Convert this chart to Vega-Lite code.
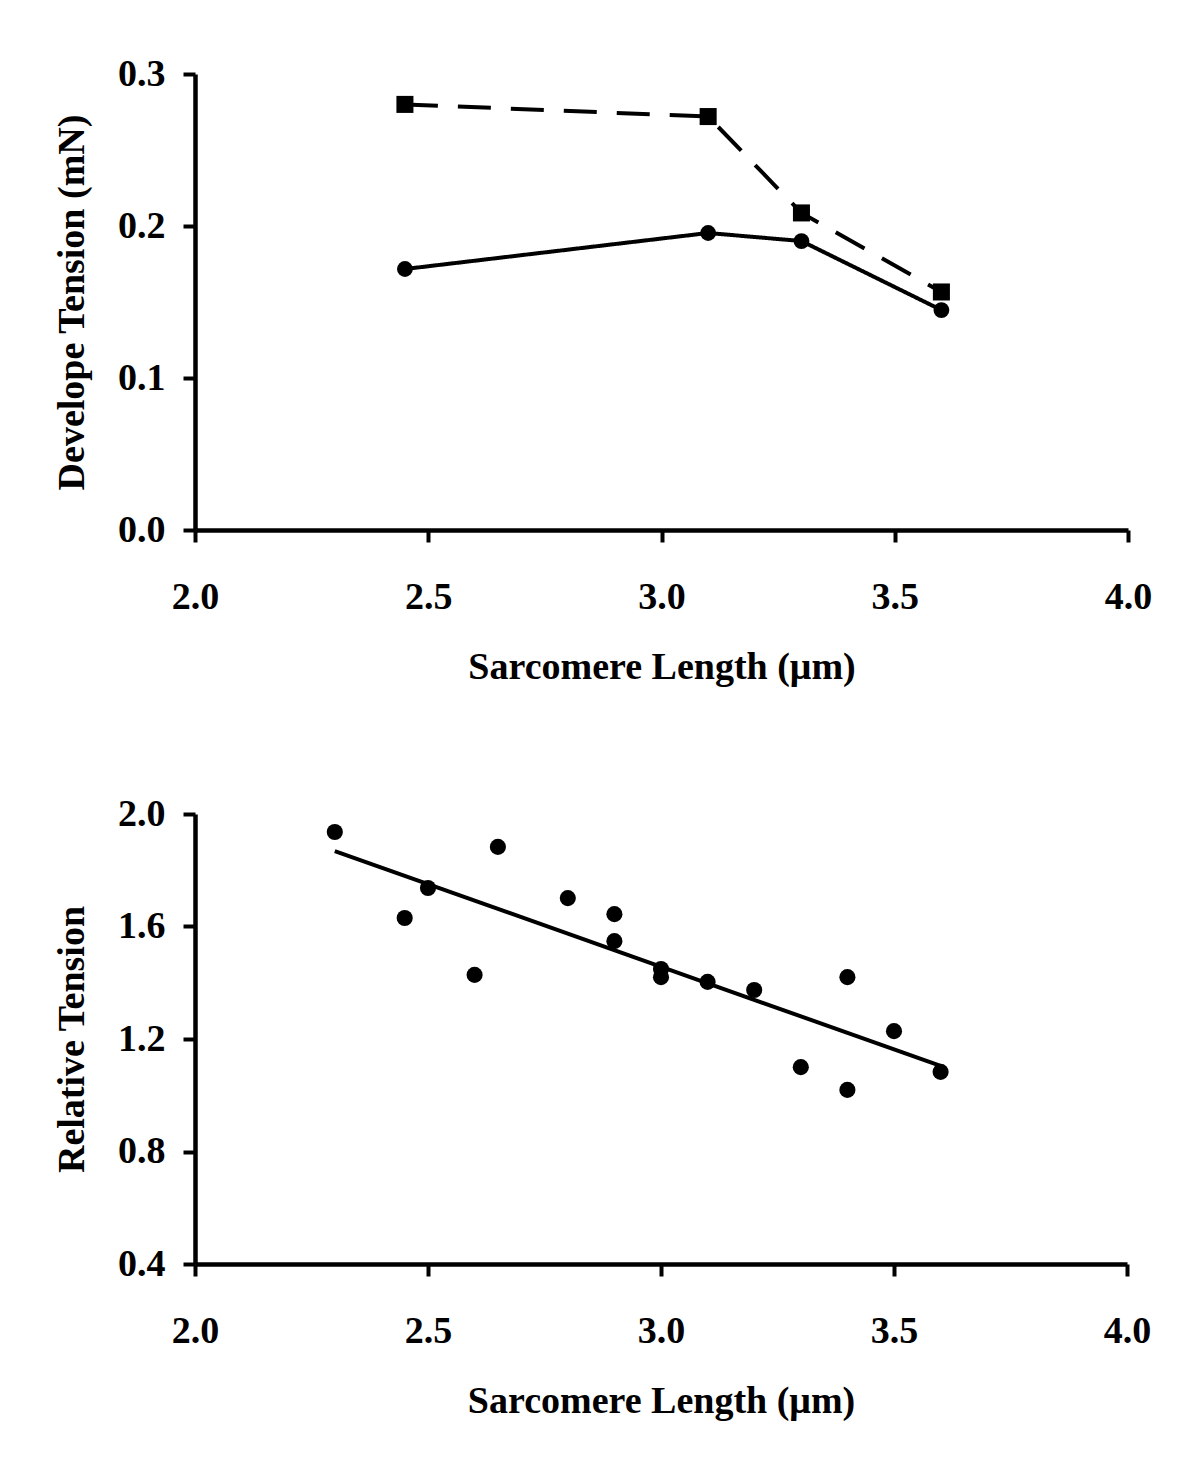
{
  "$schema": "https://vega.github.io/schema/vega-lite/v6.json",
  "background": "white",
  "padding": {"left": 53, "top": 55, "right": 40, "bottom": 20},
  "config": {
    "font": "Liberation Serif",
    "view": {"stroke": null},
    "axis": {
      "grid": false,
      "domainColor": "black",
      "domainWidth": 4.5,
      "tickColor": "black",
      "tickWidth": 4,
      "tickSize": 12,
      "labelFont": "Liberation Serif",
      "labelFontSize": 38,
      "labelFontWeight": "bold",
      "labelColor": "black",
      "labelFlush": false,
      "titleFont": "Liberation Serif",
      "titleFontSize": 38,
      "titleFontWeight": "bold",
      "titleColor": "black"
    },
    "axisX": {"labelPadding": 36, "titlePadding": 32},
    "axisY": {"labelPadding": 18, "titlePadding": 26}
  },
  "spacing": 109,
  "vconcat": [
    {
      "width": 933,
      "height": 456,
      "data": {
        "values": [
          {"sl": 2.45, "tension": 0.280, "series": "A"},
          {"sl": 3.1, "tension": 0.272, "series": "A"},
          {"sl": 3.3, "tension": 0.2086, "series": "A"},
          {"sl": 3.6, "tension": 0.1566, "series": "A"},
          {"sl": 2.45, "tension": 0.1717, "series": "B"},
          {"sl": 3.1, "tension": 0.1954, "series": "B"},
          {"sl": 3.3, "tension": 0.1901, "series": "B"},
          {"sl": 3.6, "tension": 0.1447, "series": "B"}
        ]
      },
      "encoding": {
        "x": {
          "field": "sl", "type": "quantitative",
          "scale": {"domain": [2, 4], "nice": false, "zero": false},
          "axis": {"values": [2, 2.5, 3, 3.5, 4], "format": ".1f", "title": "Sarcomere Length (μm)"}
        },
        "y": {
          "field": "tension", "type": "quantitative",
          "scale": {"domain": [0, 0.3], "nice": false},
          "axis": {"values": [0, 0.1, 0.2, 0.3], "format": ".1f", "title": "Develope Tension (mN)"}
        }
      },
      "layer": [
        {
          "mark": {"type": "line", "color": "black", "strokeWidth": 4},
          "encoding": {
            "detail": {"field": "series"},
            "strokeDash": {
              "field": "series", "type": "nominal",
              "scale": {"domain": ["A", "B"], "range": [[33, 20], [1, 0]]},
              "legend": null
            }
          }
        },
        {
          "mark": {"type": "point", "filled": true, "color": "black", "opacity": 1},
          "encoding": {
            "shape": {
              "field": "series", "type": "nominal",
              "scale": {"domain": ["A", "B"], "range": ["square", "circle"]},
              "legend": null
            },
            "size": {
              "field": "series", "type": "nominal",
              "scale": {"domain": ["A", "B"], "range": [290, 250]},
              "legend": null
            }
          }
        }
      ]
    },
    {
      "width": 932,
      "height": 450,
      "data": {
        "values": [
          {"sl": 2.3, "rt": 1.936},
          {"sl": 2.45, "rt": 1.630},
          {"sl": 2.5, "rt": 1.737},
          {"sl": 2.6, "rt": 1.428},
          {"sl": 2.65, "rt": 1.883},
          {"sl": 2.8, "rt": 1.701},
          {"sl": 2.9, "rt": 1.644},
          {"sl": 2.9, "rt": 1.548},
          {"sl": 3.0, "rt": 1.449},
          {"sl": 3.0, "rt": 1.420},
          {"sl": 3.1, "rt": 1.403},
          {"sl": 3.2, "rt": 1.374},
          {"sl": 3.3, "rt": 1.100},
          {"sl": 3.4, "rt": 1.420},
          {"sl": 3.4, "rt": 1.019},
          {"sl": 3.5, "rt": 1.228},
          {"sl": 3.6, "rt": 1.083}
        ]
      },
      "encoding": {
        "x": {
          "field": "sl", "type": "quantitative",
          "scale": {"domain": [2, 4], "nice": false, "zero": false},
          "axis": {"values": [2, 2.5, 3, 3.5, 4], "format": ".1f", "title": "Sarcomere Length (μm)"}
        },
        "y": {
          "field": "rt", "type": "quantitative",
          "scale": {"domain": [0.4, 2.0], "nice": false, "zero": false},
          "axis": {"values": [0.4, 0.8, 1.2, 1.6, 2.0], "format": ".1f", "title": "Relative Tension"}
        }
      },
      "layer": [
        {
          "mark": {"type": "point", "filled": true, "color": "black", "opacity": 1, "size": 260, "shape": "circle"}
        },
        {
          "transform": [{"regression": "rt", "on": "sl", "method": "linear"}],
          "mark": {"type": "line", "color": "black", "strokeWidth": 4}
        }
      ]
    }
  ]
}
